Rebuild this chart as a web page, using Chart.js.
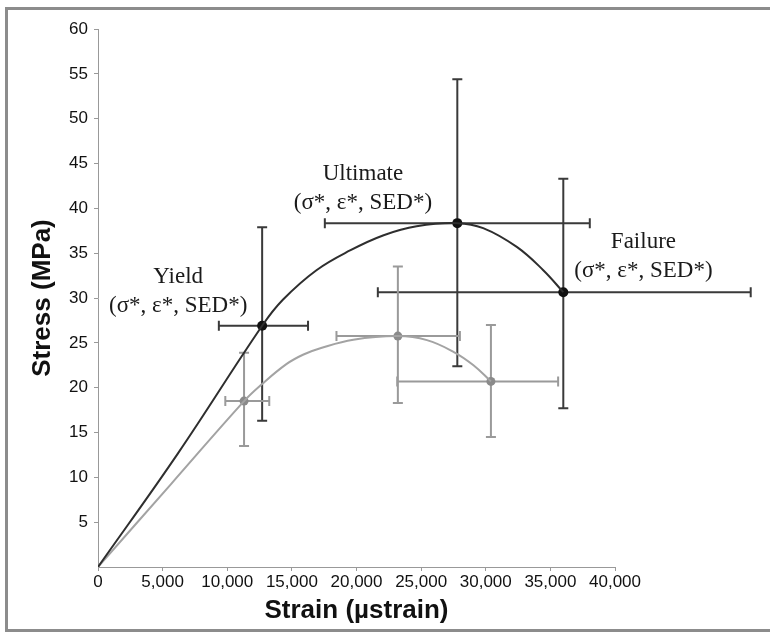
<!DOCTYPE html>
<html>
<head>
<meta charset="utf-8">
<script src="https://cdn.jsdelivr.net/npm/chart.js@4/dist/chart.umd.min.js"></script>
<style>
  html, body { margin: 0; padding: 0; background: #fff; }
  #wrap { position: relative; width: 770px; height: 636px; overflow: hidden; }
  #frame { position: absolute; left: 5px; top: 7px; width: 780px; height: 625px; border: 3px solid #8c8c8c; box-sizing: border-box; }
  canvas { position: absolute; left: 0; top: 0; }
</style>
</head>
<body>
<div id="wrap">
  <div id="frame"></div>
  <canvas id="c" width="770" height="636"></canvas>
</div>
<script>
// ---- Data ----
const pointNames = ['Yield', 'Ultimate', 'Failure'];

// Black series: key points (strain in µstrain, stress in MPa)
const blackStrain = [12700, 27800, 36000];
const blackStress = [26.9, 38.35, 30.65];
const blackStrainLo = [9350, 17550, 21650];
const blackStrainHi = [16250, 38050, 50500];
const blackStressLo = [16.3, 22.4, 17.7];
const blackStressHi = [37.9, 54.4, 43.3];

// Gray series: key points
const grayStrain = [11300, 23200, 30400];
const grayStress = [18.5, 25.75, 20.7];
const grayStrainLo = [9850, 18450, 23150];
const grayStrainHi = [13250, 28000, 35600];
const grayStressLo = [13.5, 18.3, 14.5];
const grayStressHi = [23.9, 33.5, 27.0];

// Curves
const blackCurveStrain = [0, 6200, 12700, 14300, 16900, 19500, 22100, 24650, 27800, 29800, 32400, 34450, 36000];
const blackCurveStress = [0, 12.7, 26.9, 29.8, 33.1, 35.3, 37.0, 38.0, 38.35, 37.8, 35.7, 33.1, 30.65];
const grayCurveStrain = [0, 5650, 11300, 12650, 14600, 15900, 17200, 19750, 23200, 25450, 27500, 29050, 30400];
const grayCurveStress = [0, 9.25, 18.5, 20.35, 22.65, 23.7, 24.4, 25.35, 25.75, 25.3, 24.0, 22.5, 20.7];

// Axis ticks
const xTicks = [0, 5000, 10000, 15000, 20000, 25000, 30000, 35000, 40000];
const yTicks = [5, 10, 15, 20, 25, 30, 35, 40, 45, 50, 55, 60];

// Annotation text
const labelLine1 = ['Yield', 'Ultimate', 'Failure'];
const labelLine2 = '(σ*, ε*, SED*)';
// annotation anchors in data units (centre of first line)
const labelStrain = [6200, 20500, 42200];
const labelStress = [32.3, 43.8, 36.2];

// ---- build ----
const zip = (xs, ys) => xs.map((x, i) => ({ x: x, y: ys[i] }));

const errorBars = [
  { xs: blackStrain, ys: blackStress, xlo: blackStrainLo, xhi: blackStrainHi, ylo: blackStressLo, yhi: blackStressHi, color: '#3a3a3a', width: 2 },
  { xs: grayStrain, ys: grayStress, xlo: grayStrainLo, xhi: grayStrainHi, ylo: grayStressLo, yhi: grayStressHi, color: '#9a9a9a', width: 2 }
];

const errorBarPlugin = {
  id: 'errorBars',
  beforeDatasetsDraw(chart) {
    const ctx = chart.ctx, xs = chart.scales.x, ys = chart.scales.y;
    const cap = 5;
    ctx.save();
    errorBars.forEach(s => {
      ctx.strokeStyle = s.color;
      ctx.lineWidth = s.width;
      s.xs.forEach((xv, i) => {
        const px = xs.getPixelForValue(xv), py = ys.getPixelForValue(s.ys[i]);
        const x0 = xs.getPixelForValue(s.xlo[i]), x1 = xs.getPixelForValue(s.xhi[i]);
        const y0 = ys.getPixelForValue(s.ylo[i]), y1 = ys.getPixelForValue(s.yhi[i]);
        ctx.beginPath();
        ctx.moveTo(x0, py); ctx.lineTo(x1, py);
        ctx.moveTo(x0, py - cap); ctx.lineTo(x0, py + cap);
        ctx.moveTo(x1, py - cap); ctx.lineTo(x1, py + cap);
        ctx.moveTo(px, y0); ctx.lineTo(px, y1);
        ctx.moveTo(px - cap, y0); ctx.lineTo(px + cap, y0);
        ctx.moveTo(px - cap, y1); ctx.lineTo(px + cap, y1);
        ctx.stroke();
      });
    });
    ctx.restore();
  },
  afterDatasetsDraw(chart) {
    const ctx = chart.ctx, xs = chart.scales.x, ys = chart.scales.y;
    ctx.save();
    ctx.fillStyle = '#1a1a1a';
    ctx.font = '23px "Liberation Serif", "Times New Roman", serif';
    ctx.textAlign = 'center';
    ctx.textBaseline = 'middle';
    labelLine1.forEach((t, i) => {
      const px = xs.getPixelForValue(labelStrain[i]);
      const py = ys.getPixelForValue(labelStress[i]);
      ctx.fillText(t, px, py);
      ctx.fillText(labelLine2, px, py + 29);
    });
    ctx.restore();
  }
};

new Chart(document.getElementById('c'), {
  type: 'scatter',
  data: {
    datasets: [
      { type: 'line', label: 'curveBlack', data: zip(blackCurveStrain, blackCurveStress), borderColor: '#2e2e2e', borderWidth: 2, pointRadius: 0, tension: 0.4, cubicInterpolationMode: 'default', fill: false },
      { type: 'line', label: 'curveGray', data: zip(grayCurveStrain, grayCurveStress), borderColor: '#a3a3a3', borderWidth: 2, pointRadius: 0, tension: 0.4, cubicInterpolationMode: 'default', fill: false },
      { label: 'pointsBlack', data: zip(blackStrain, blackStress), pointRadius: 5, backgroundColor: '#111', borderColor: '#111', borderWidth: 0 },
      { label: 'pointsGray', data: zip(grayStrain, grayStress), pointRadius: 4.5, backgroundColor: '#8a8a8a', borderColor: '#8a8a8a', borderWidth: 0 }
    ]
  },
  plugins: [errorBarPlugin],
  options: {
    responsive: false,
    animation: false,
    events: [],
    layout: { padding: { left: 22, top: 29, right: 155, bottom: 0 } },
    plugins: { legend: { display: false }, tooltip: { enabled: false } },
    scales: {
      x: {
        type: 'linear', min: 0, max: 40000,
        afterBuildTicks: s => { s.ticks = xTicks.map(v => ({ value: v })); },
        afterFit: s => { s.height = 69; },
        ticks: { color: '#111', font: { family: '"Liberation Sans", Arial, sans-serif', size: 17 }, maxRotation: 0, autoSkip: false, padding: 1,
          callback: v => v.toLocaleString('en-US') },
        grid: { drawOnChartArea: false, drawTicks: true, tickLength: 4, color: '#999' },
        border: { display: true, color: '#999', width: 1 },
        title: { display: true, text: 'Strain (µstrain)', color: '#111', font: { family: '"Liberation Sans", Arial, sans-serif', size: 26, weight: 'bold' }, padding: { top: 0, bottom: 10 } }
      },
      y: {
        type: 'linear', min: 0, max: 60,
        afterBuildTicks: s => { s.ticks = yTicks.map(v => ({ value: v })); },
        afterFit: s => { s.width = 76; },
        ticks: { color: '#111', font: { family: '"Liberation Sans", Arial, sans-serif', size: 17 }, padding: 6 },
        grid: { drawOnChartArea: false, drawTicks: true, tickLength: 4, color: '#999' },
        border: { display: true, color: '#999', width: 1 },
        title: { display: true, text: 'Stress (MPa)', color: '#111', font: { family: '"Liberation Sans", Arial, sans-serif', size: 26, weight: 'bold' }, padding: { top: 5, bottom: 0 } }
      }
    }
  }
});
</script>
</body>
</html>
